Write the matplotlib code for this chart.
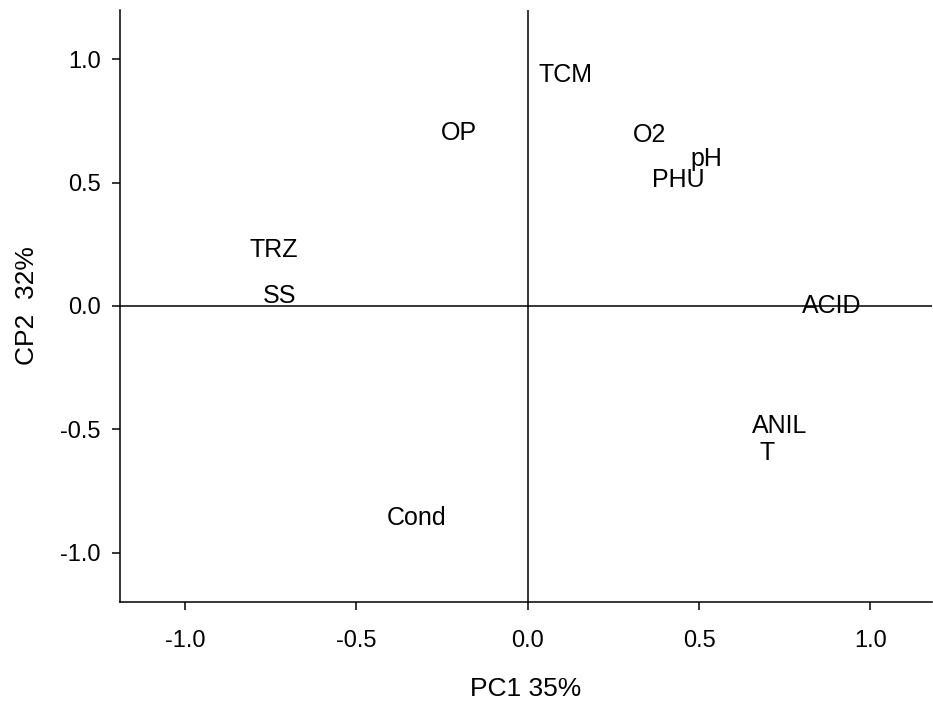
import matplotlib
matplotlib.use("Agg")
import matplotlib.pyplot as plt

plt.rcParams['font.family'] = ['Liberation Sans', 'DejaVu Sans']

# variable loadings on the first two components
variables = ["TCM", "OP", "O2", "pH", "PHU", "TRZ", "SS", "ACID", "ANIL", "T", "Cond"]
pc1 = [0.11, -0.20, 0.355, 0.52, 0.44, -0.74, -0.725, 0.886, 0.735, 0.70, -0.325]
pc2 = [0.935, 0.70, 0.695, 0.595, 0.51, 0.225, 0.04, 0.0, -0.485, -0.595, -0.86]

xticks = [-1.0, -0.5, 0.0, 0.5, 1.0]
yticks = [-1.0, -0.5, 0.0, 0.5, 1.0]

fig = plt.figure(figsize=(9.33, 7.02), dpi=100)
ax = fig.add_axes([0.1286, 0.1425, 0.8704, 0.8433])

for name, x, y in zip(variables, pc1, pc2):
    ax.text(x, y, name, ha='center', va='center', fontsize=18)

ax.axhline(0, color='black', lw=1.1)
ax.axvline(0, color='black', lw=1.1)

ax.set_xlim(-1.19, 1.18)
ax.set_ylim(-1.2, 1.2)
ax.set_xticks(xticks)
ax.set_yticks(yticks)
ax.set_xticklabels([f"{v:.1f}" for v in xticks])
ax.set_yticklabels([f"{v:.1f}" for v in yticks])

ax.spines['top'].set_visible(False)
ax.spines['right'].set_visible(False)
for s in ('left', 'bottom'):
    ax.spines[s].set_linewidth(1.1)
ax.tick_params(axis='both', direction='out', length=6, width=1.1, labelsize=17)
ax.tick_params(axis='x', pad=14)
ax.tick_params(axis='y', pad=8)

ax.set_xlabel("PC1 35%", fontsize=19, labelpad=18)
ax.set_ylabel("CP2  32%", fontsize=19, labelpad=15)

fig.savefig("out.png", dpi=100)
